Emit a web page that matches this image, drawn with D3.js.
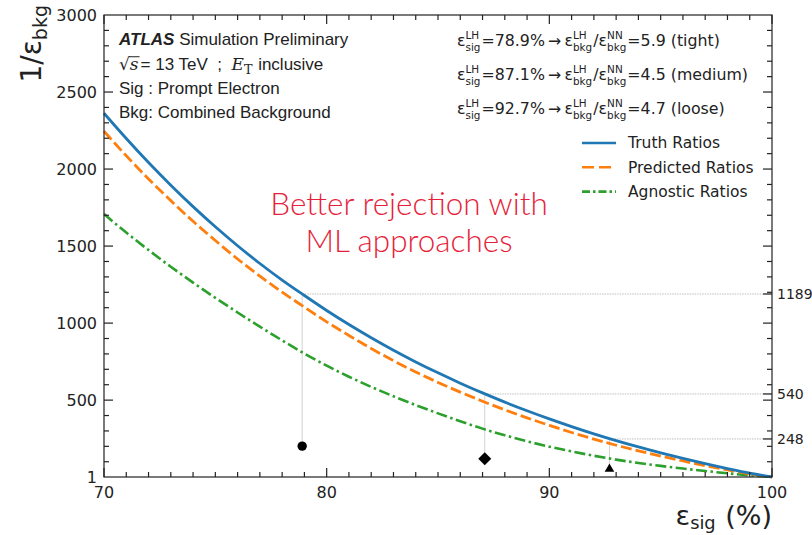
<!DOCTYPE html>
<html lang="en">
<head>
  <meta charset="UTF-8">
  <title>Background rejection vs signal efficiency</title>
  <script src="https://d3js.org/d3.v7.min.js"></script>
  <style>
    body { margin: 0; background: #fff; }
    svg text { fill: #222; white-space: pre; }
    .tick-label { font-family: "DejaVu Sans", sans-serif; font-size: 16px; }
    .atlas { font-family: "Liberation Sans", Arial, sans-serif; font-size: 17px; }
    .mpl { font-family: "DejaVu Sans", sans-serif; }
    svg text.callout { font-family: Lato, "Open Sans", sans-serif; font-weight: 300; font-size: 31.5px; fill: #e61f3c; }
  </style>
</head>
<body>
  <div id="chart"></div>

  <script>
    // ------------------------ Data ------------------------

    const sigEff = [70, 71, 72, 73, 74, 75, 76, 77, 78, 79, 80, 81, 82, 83, 84, 85,
                    86, 87, 88, 89, 90, 91, 92, 93, 94, 95, 96, 97, 98, 99, 100];

    const truthRatios = [2362, 2198, 2042, 1895, 1756, 1625, 1502, 1387, 1279, 1179, 1082,
                         991, 905, 824, 748, 677, 610, 547, 487, 431, 378, 328, 281, 237,
                         196, 158, 122, 88, 56, 26, 1];

    const predictedRatios = [2245, 2086, 1936, 1795, 1661, 1536, 1416, 1305, 1201, 1104, 1008,
                             920, 835, 756, 683, 615, 552, 493, 437, 385, 336, 290, 247, 207,
                             171, 137, 105, 75, 47, 21, 1];

    const agnosticRatios = [1708, 1588, 1474, 1366, 1263, 1164, 1069, 977, 888, 802, 724,
                            652, 586, 525, 468, 414, 363, 315, 272, 233, 198, 167, 139, 114,
                            92, 73, 56, 40, 25, 12, 1];

    // working points of the likelihood ID
    const wpNames = ["tight", "medium", "loose"];
    const wpSigEff = [78.9, 87.1, 92.7];
    const wpRejection = [1189, 540, 248];
    const wpGain = [5.9, 4.5, 4.7];

    const yTicks = [1, 500, 1000, 1500, 2000, 2500, 3000];
    const xTicks = [70, 80, 90, 100];

    // ------------------------ Setup ------------------------

    const W = 812, H = 535;
    const plot = { left: 104, right: 772, top: 15, bottom: 477 };

    const svg = d3.select("#chart").append("svg")
      .attr("width", W)
      .attr("height", H);

    const x = d3.scaleLinear().domain([70, 100]).range([plot.left, plot.right]);
    const y = d3.scaleLinear().domain([1, 3000]).range([plot.bottom, plot.top]);

    const colors = { truth: "#1f77b4", pred: "#ff7f0e", agn: "#2ca02c" };

    // little helper to write matplotlib-style mathtext (stacked sup/sub)
    function mathRow(g, x0, y0, parts, size, cls) {
      let cx = x0;
      parts.forEach(p => {
        if (p.t !== undefined) {
          const el = g.append("text").attr("class", cls)
            .attr("x", cx).attr("y", y0)
            .style("font-size", size + "px")
            .style("font-family", p.family || null)
            .style("font-style", p.italic ? "italic" : null)
            .style("font-weight", p.bold ? "bold" : null)
            .text(p.t);
          const len = el.node().getComputedTextLength();
          if (p.overline) {
            g.append("line")
              .attr("x1", cx - 1).attr("x2", cx + len + 1)
              .attr("y1", y0 - size * 0.78).attr("y2", y0 - size * 0.78)
              .attr("stroke", "#222").attr("stroke-width", 1);
          }
          cx += len + (p.gap || 0);
        } else {
          let w = 0;
          const s = size * (p.scale || 0.66);
          if (p.sup) {
            const e = g.append("text").attr("class", cls)
              .attr("x", cx).attr("y", y0 - size * 0.46)
              .style("font-size", s + "px").text(p.sup);
            w = Math.max(w, e.node().getComputedTextLength());
          }
          if (p.sub) {
            const e = g.append("text").attr("class", cls)
              .attr("x", cx).attr("y", y0 + size * (p.subShift || 0.3))
              .style("font-size", s + "px")
              .style("font-family", p.family || null)
              .text(p.sub);
            w = Math.max(w, e.node().getComputedTextLength());
          }
          cx += w + 1;
        }
      });
      return cx;
    }

    // ------------------------ Reference lines ------------------------

    const refs = svg.append("g");
    wpSigEff.forEach((e, i) => {
      refs.append("line")
        .attr("x1", x(e)).attr("x2", plot.right)
        .attr("y1", y(wpRejection[i])).attr("y2", y(wpRejection[i]))
        .attr("stroke", "#b8b8b8").attr("stroke-width", 0.9)
        .attr("stroke-dasharray", "1.5,1");
      refs.append("line")
        .attr("x1", x(e)).attr("x2", x(e))
        .attr("y1", y(wpRejection[i])).attr("y2", y(wpRejection[i] / wpGain[i]))
        .attr("stroke", "#c8c8c8").attr("stroke-width", 0.8);
    });

    // ------------------------ Curves ------------------------

    const line = vals => d3.line()
      .x((d, i) => x(sigEff[i]))
      .y(d => y(d))
      .curve(d3.curveMonotoneX)(vals);

    svg.append("path").attr("d", line(agnosticRatios))
      .attr("fill", "none").attr("stroke", colors.agn).attr("stroke-width", 2.6)
      .attr("stroke-dasharray", "11,3.5,2.5,3.5");
    svg.append("path").attr("d", line(predictedRatios))
      .attr("fill", "none").attr("stroke", colors.pred).attr("stroke-width", 2.8)
      .attr("stroke-dasharray", "11,4");
    svg.append("path").attr("d", line(truthRatios))
      .attr("fill", "none").attr("stroke", colors.truth).attr("stroke-width", 2.8);

    // ------------------------ Markers ------------------------

    const markerShape = [
      d3.symbol(d3.symbolCircle, 70),
      d3.symbol(d3.symbolSquare, 84),
      d3.symbol(d3.symbolTriangle, 40)
    ];
    const markerRot = [0, 45, 0];

    wpSigEff.forEach((e, i) => {
      svg.append("path")
        .attr("d", markerShape[i]())
        .attr("transform", `translate(${x(e)},${y(wpRejection[i] / wpGain[i])}) rotate(${markerRot[i]})`)
        .attr("fill", "#000");
    });

    // ------------------------ Axes ------------------------

    const axes = svg.append("g").attr("stroke", "#222").attr("stroke-width", 1.2);
    axes.append("rect")
      .attr("x", plot.left).attr("y", plot.top)
      .attr("width", plot.right - plot.left).attr("height", plot.bottom - plot.top)
      .attr("fill", "none");

    const xMinor = d3.range(70, 101, 1);
    const yMinor = d3.range(100, 3000, 100);

    // inward ticks on all four sides
    xMinor.forEach(v => {
      const len = v % 10 === 0 ? 9 : 5;
      axes.append("line").attr("x1", x(v)).attr("x2", x(v))
        .attr("y1", plot.bottom).attr("y2", plot.bottom - len);
      axes.append("line").attr("x1", x(v)).attr("x2", x(v))
        .attr("y1", plot.top).attr("y2", plot.top + len);
    });
    yMinor.forEach(v => {
      const len = v % 500 === 0 ? 9 : 5;
      axes.append("line").attr("x1", plot.left).attr("x2", plot.left + len)
        .attr("y1", y(v)).attr("y2", y(v));
      axes.append("line").attr("x1", plot.right).attr("x2", plot.right - len)
        .attr("y1", y(v)).attr("y2", y(v));
    });
    wpRejection.forEach(v => {
      axes.append("line").attr("x1", plot.right).attr("x2", plot.right - 9)
        .attr("y1", y(v)).attr("y2", y(v));
    });

    svg.append("g").selectAll("text").data(yTicks).join("text")
      .attr("class", "tick-label")
      .attr("x", plot.left - 7).attr("y", d => y(d))
      .attr("dy", "0.35em").attr("text-anchor", "end")
      .text(d => d);

    svg.append("g").selectAll("text").data(xTicks).join("text")
      .attr("class", "tick-label")
      .attr("x", d => x(d)).attr("y", plot.bottom + 21)
      .attr("text-anchor", "middle")
      .text(d => d);

    svg.append("g").selectAll("text").data(wpRejection).join("text")
      .attr("class", "tick-label")
      .attr("x", plot.right + 5).attr("y", d => y(d))
      .attr("dy", "0.35em").style("font-size", "14px")
      .text(d => d);

    // axis titles
    const xt = svg.append("g");
    const xtEnd = mathRow(xt, 0, 0, [
      { t: "ε" }, { sub: "sig", scale: 0.66, subShift: 0.16 }, { t: " (%)" }
    ], 27, "mpl");
    xt.attr("transform", `translate(${plot.right - xtEnd},${525})`);

    const yt = svg.append("g");
    const ytEnd = mathRow(yt, 0, 0, [
      { t: "1/ε" }, { sub: "bkg", scale: 0.68, subShift: 0.2 }
    ], 28, "mpl");
    yt.attr("transform", `translate(41,${4 + ytEnd}) rotate(-90)`);

    // ------------------------ Annotation text ------------------------

    const info = svg.append("g");
    mathRow(info, 119, 45, [
      { t: "ATLAS", bold: true, italic: true }, { t: " Simulation Preliminary" }
    ], 17, "atlas");
    mathRow(info, 119, 70, [
      { t: "√", family: "DejaVu Serif" },
      { t: "s", family: "DejaVu Serif", italic: true, overline: true, gap: 2 },
      { t: "= 13 TeV  ;  " },
      { t: "E", family: "DejaVu Serif", italic: true },
      { sub: "T", family: "DejaVu Serif", scale: 0.75, subShift: 0.22 },
      { t: " inclusive" }
    ], 17, "atlas");
    mathRow(info, 119, 94, [{ t: "Sig : Prompt Electron" }], 17, "atlas");
    mathRow(info, 119, 118, [{ t: "Bkg: Combined Background" }], 17, "atlas");

    // working point legend
    const wpLeg = svg.append("g");
    const legY = [41, 75, 109];
    wpSigEff.forEach((e, i) => {
      wpLeg.append("path")
        .attr("d", d3.symbol([d3.symbolCircle, d3.symbolSquare, d3.symbolTriangle][i],
                             [50, 50, 34])())
        .attr("transform", `translate(441,${legY[i]}) rotate(${markerRot[i]})`)
        .attr("fill", "#000");
      mathRow(wpLeg, 457, legY[i] + 5, [
        { t: "ε" }, { sup: "LH", sub: "sig" },
        { t: `=${e}%` }, { t: "\u2009→\u2009" },
        { t: "ε" }, { sup: "LH", sub: "bkg" }, { t: "/ε" }, { sup: "NN", sub: "bkg" },
        { t: `=${wpGain[i]} (${wpNames[i]})` }
      ], 15.8, "mpl");
    });

    // line legend
    const lineLeg = svg.append("g");
    const legItems = [
      { name: "Truth Ratios", c: colors.truth, dash: null },
      { name: "Predicted Ratios", c: colors.pred, dash: "12,5" },
      { name: "Agnostic Ratios", c: colors.agn, dash: "8,3,2.5,3" }
    ];
    legItems.forEach((d, i) => {
      const yy = 143 + i * 24.3;
      lineLeg.append("line").attr("x1", 582).attr("x2", 616)
        .attr("y1", yy).attr("y2", yy)
        .attr("stroke", d.c).attr("stroke-width", 2.6)
        .attr("stroke-dasharray", d.dash);
      lineLeg.append("text").attr("class", "mpl")
        .attr("x", 628).attr("y", yy).attr("dy", "0.35em")
        .style("font-size", "15.5px").text(d.name);
    });

    // red call-out
    svg.append("text").attr("class", "callout")
      .attr("x", 409).attr("y", 215).attr("text-anchor", "middle")
      .text("Better rejection with");
    svg.append("text").attr("class", "callout")
      .attr("x", 409).attr("y", 252).attr("text-anchor", "middle")
      .text("ML approaches");
  </script>
</body>
</html>
